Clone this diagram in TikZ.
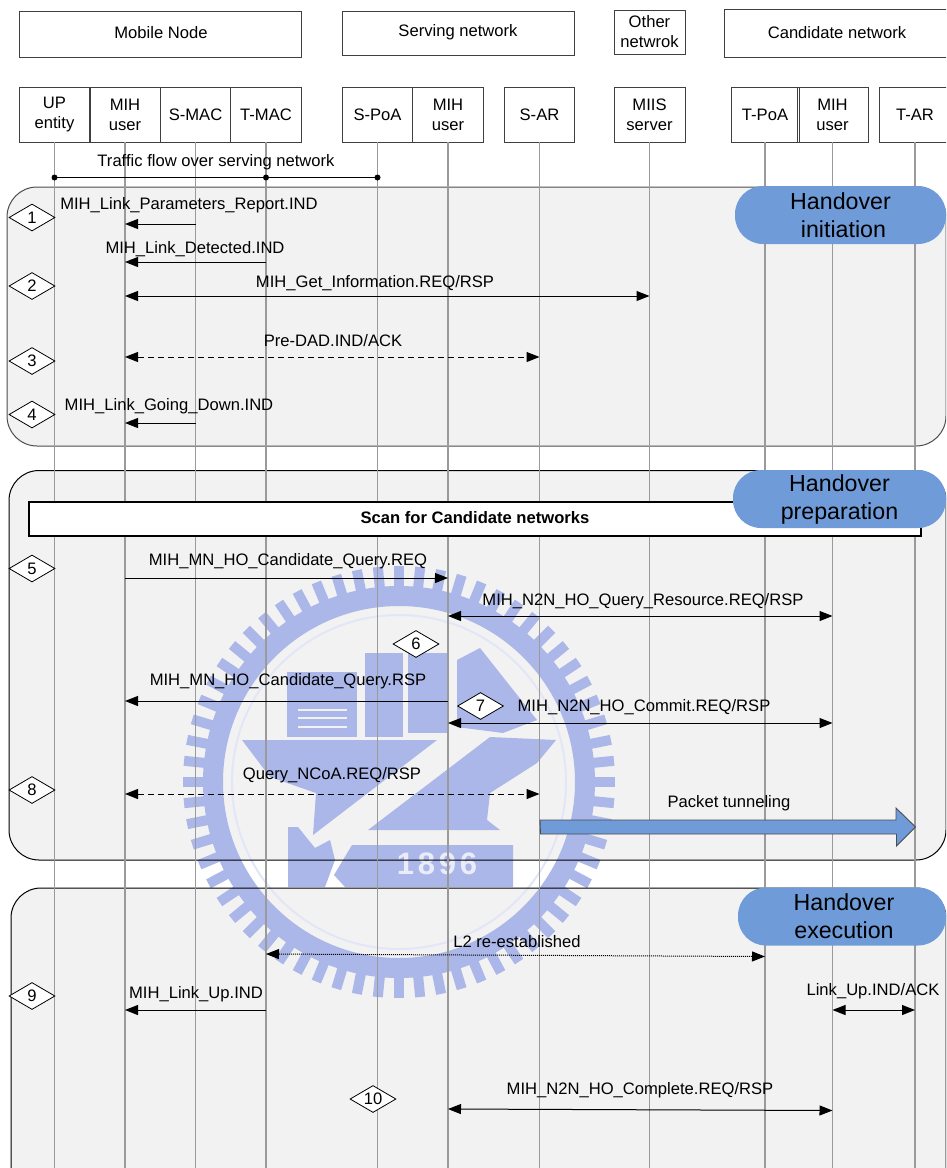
\documentclass[tikz,border=0pt]{standalone}
\usepackage{fontspec}
\setmainfont{Liberation Sans}
\usetikzlibrary{arrows.meta, shapes.geometric}
\definecolor{PhaseFill}{HTML}{F2F2F2}
\definecolor{PillBlue}{HTML}{6F9BD9}
\definecolor{SealBlue}{HTML}{ABB7E8}
\definecolor{LifeGray}{HTML}{9A9A9A}
\tikzset{
    entity/.style={draw=black!75, line width=0.9pt, inner sep=0pt, align=center, font=\fontsize{16.6}{20}\selectfont},
    lifeline/.style={draw=LifeGray, line width=1.4pt},
    phase/.style={rounded corners=30pt, line width=1pt},
    pill/.style={fill=PillBlue, rounded corners=28pt, inner sep=0pt, minimum height=58pt, align=center, font=\fontsize{23.2}{28}\selectfont},
    lbl/.style={inner sep=0pt, yshift=-1.4pt, font=\fontsize{16.6}{19}\selectfont},
    stepmark/.style={diamond, draw=black, fill=white, line width=0.8pt, inner sep=0pt, aspect=1.7, minimum width=46pt, minimum height=27pt, font=\fontsize{16.6}{19}\selectfont},
    msg/.style={draw=black, line width=1pt, -{Triangle[length=13pt,width=10pt]}},
    msgboth/.style={msg, {Triangle[length=13pt,width=10pt]}-{Triangle[length=13pt,width=10pt]}},
    longdash/.style={dash pattern=on 6pt off 4pt},
    tdot/.style={circle, fill=black, inner sep=0pt, minimum size=6pt}
}
\begin{document}
\begin{tikzpicture}[x=1pt, y=-1pt]
    \useasboundingbox (0,0) rectangle (946,1168);
    \clip (0,0) rectangle (946,1168);

    % Phase backgrounds, borders come after the seal
    \fill[PhaseFill, phase] (7,187) rectangle (946,446);
    \fill[PhaseFill, phase] (9,470.5) rectangle (946,860);
    \fill[PhaseFill, phase] (11,888) rectangle (946,1198);

    % Seal behind everything: centre (399,782)
    \coordinate (SC) at (399,782);
    \begin{scope}[SealBlue]
        \draw[line width=20pt] (SC) circle (186);
        \draw[SealBlue!35, line width=2pt] (SC) circle (167);
        \foreach \a in {0,5.625,...,359} {
            \draw[line width=10pt] (SC) ++(\a:190) -- ++(\a:26);
        }
        % hull, left and right of the stripe
        \fill (242,740) -- (437,740) -- (313,835) -- (316,793) -- (270,777) -- cycle;
        \fill (490,737) -- (556,740) -- (537,763) -- (490,793) -- (487,820) -- (500,830) -- (368,830) -- cycle;
        % buildings
        \fill (287,672) rectangle (357,737);
        \fill (365,653) rectangle (403,737);
        \fill (408,653) rectangle (448,733);
        \fill (457,660) -- (480,648) -- (537,720) -- (503,733) -- (457,727) -- cycle;
        \foreach \y in {710,718,727} {
            \draw[PhaseFill, line width=2.5pt] (298,\y) -- (347,\y);
        }
        % foot of the seal and banner
        \fill (288,827) -- (298,827) -- (315,848) -- (330,840) -- (335,860) -- (325,887) -- (288,887) -- cycle;
        \fill (334,875) -- (352,845) -- (513,845) -- (513,887) -- (345,887) -- cycle;
    \end{scope}
    \node[text=SealBlue!25, font=\bfseries\fontsize{31}{31}\selectfont\addfontfeature{LetterSpace=12}, inner sep=0pt] (year) at (437,864) {1896};

    \draw[draw=black!70, phase] (7,187) rectangle (946,446);
    \draw[draw=black, phase] (9,470.5) rectangle (946,860);
    \draw[draw=black, phase] (11,888) rectangle (946,1198);

    % Group boxes
    \node[entity, minimum width=282pt, minimum height=46pt] (mobile) at (160,34) {};
    \node[lbl] (mobiletxt) at (161,31.5) {Mobile Node};
    \node[entity, minimum width=232pt, minimum height=44pt] (serving) at (458,33) {};
    \node[lbl] (servingtxt) at (458,30.5) {Serving network};
    \node[entity, minimum width=71pt, minimum height=44pt] (other) at (649.5,32) {Other\\netwrok};
    \node[entity, minimum width=226pt, minimum height=48pt] (candidate) at (837,33) {};
    \node[lbl] (candidatetxt) at (837,31) {Candidate network};

    % Entity boxes
    \node[entity, minimum width=71pt, minimum height=55pt] (upent) at (54.5,114.5) {UP\\entity};
    \node[entity, minimum width=70.5pt, minimum height=55pt] (mihmn) at (125,114.5) {MIH\\user};
    \node[entity, minimum width=70.5pt, minimum height=55pt] (smac) at (195.5,114.5) {S-MAC};
    \node[entity, minimum width=70.5pt, minimum height=55pt] (tmac) at (266,114.5) {T-MAC};
    \node[entity, minimum width=70.5pt, minimum height=55pt] (spoa) at (377.5,114.5) {S-PoA};
    \node[entity, minimum width=70.5pt, minimum height=55pt] (mihsn) at (448,114.5) {MIH\\user};
    \node[entity, minimum width=70.5pt, minimum height=55pt] (sar) at (539.5,114.5) {S-AR};
    \node[entity, minimum width=71pt, minimum height=55pt] (miis) at (649.5,114.5) {MIIS\\server};
    \node[entity, minimum width=68pt, minimum height=55pt] (tpoa) at (765,114.5) {T-PoA};
    \node[entity, minimum width=71pt, minimum height=55pt] (mihcn) at (832.5,114.5) {MIH\\user};
    \node[entity, minimum width=71pt, minimum height=55pt] (tar) at (915,114.5) {T-AR};

    % Lifelines
    \coordinate (Bot) at (0,1168);
    \foreach \n in {upent,mihmn,smac,tmac,spoa,mihsn,sar,miis,tpoa,mihcn,tar} {
        \draw[lifeline] (\n.south) -- (\n.south |- Bot);
    }

    % Scan box, the pill lies over its right end
    \node[draw=black, fill=white, line width=2pt, minimum width=892pt, minimum height=34pt, inner sep=0pt] (scan) at (475,519) {};
    \node[lbl, font=\bfseries\fontsize{16.6}{19}\selectfont] (scantxt) at (475,516.5) {Scan for Candidate networks};

    % Phase names
    \node[pill, minimum width=211pt] (initiation) at (840.5,215) {Handover\\\hspace*{6pt}initiation};
    \node[pill, minimum width=213pt] (preparation) at (839.5,499) {Handover\\preparation};
    \node[pill, minimum width=208pt] (execution) at (842,916.5) {\hspace*{4pt}Handover\\\hspace*{4pt}execution};

    % Message rows
    \coordinate (R0) at (0,177.5);   % Traffic flow
    \coordinate (R1) at (0,224);     % Parameters report
    \coordinate (R2) at (0,262);     % Link detected
    \coordinate (R3) at (0,296);     % Get information
    \coordinate (R4) at (0,357);     % Pre-DAD
    \coordinate (R5) at (0,423);     % Going down
    \coordinate (R6) at (0,578);     % Candidate query REQ
    \coordinate (R7) at (0,616);     % Query resource
    \coordinate (R8) at (0,701);     % Candidate query RSP
    \coordinate (R9) at (0,723);     % Commit
    \coordinate (R10) at (0,794);    % Query NCoA
    \coordinate (R11) at (0,1010);   % Link up
    \coordinate (La) at (266,954);   % L2 start
    \coordinate (Lb) at (765,956.5); % L2 end
    \coordinate (Ca) at (448,1109);  % Complete start
    \coordinate (Cb) at (832.5,1110.5); % Complete end

    \draw[draw=black, line width=1pt] (upent |- R0) node[tdot] (d1) {} -- (tmac |- R0) node[tdot] (d2) {} -- (spoa |- R0) node[tdot] (d3) {};
    \node[lbl] (t0) at (216,160.5) {Traffic flow over serving network};

    \draw[msg] (smac |- R1) -- (mihmn |- R1);
    \node[lbl] (t1) at (189,203.5) {MIH\_Link\_Parameters\_Report.IND};
    \draw[msg] (tmac |- R2) -- (mihmn |- R2);
    \node[lbl] (t2) at (195,247.5) {MIH\_Link\_Detected.IND};
    \draw[msgboth] (mihmn |- R3) -- (miis |- R3);
    \node[lbl] (t3) at (375,282) {MIH\_Get\_Information.REQ/RSP};
    \draw[msgboth, longdash] (mihmn |- R4) -- (sar |- R4);
    \node[lbl] (t4) at (333,339) {Pre-DAD.IND/ACK};
    \draw[msg] (smac |- R5) -- (mihmn |- R5);
    \node[lbl] (t5) at (169,404.5) {MIH\_Link\_Going\_Down.IND};

    \draw[msg] (mihmn |- R6) -- (mihsn |- R6);
    \node[lbl] (t6) at (288,560) {MIH\_MN\_HO\_Candidate\_Query.REQ};
    \draw[msgboth] (mihsn |- R7) -- (mihcn |- R7);
    \node[lbl] (t7) at (643,600) {MIH\_N2N\_HO\_Query\_Resource.REQ/RSP};
    \draw[msg] (mihsn |- R8) -- (mihmn |- R8);
    \node[lbl] (t8) at (288,680) {MIH\_MN\_HO\_Candidate\_Query.RSP};
    \draw[msgboth] (mihsn |- R9) -- (mihcn |- R9);
    \node[lbl] (t9) at (644,705.5) {MIH\_N2N\_HO\_Commit.REQ/RSP};
    \draw[msgboth, longdash] (mihmn |- R10) -- (sar |- R10);
    \node[lbl] (t10) at (332,774) {Query\_NCoA.REQ/RSP};

    % Packet tunneling block arrow
    \coordinate (Ta) at (540,827);
    \coordinate (Tb) at (915.5,827);
    \draw[draw=black!70, fill=PillBlue, line width=0.9pt] (Ta) ++(0,-7) -- ++(356,0) -- ++(0,-12) -- (Tb) -- ++(-19,19) -- ++(0,-12) -- ++(-356,0) -- cycle;
    \node[lbl] (t11) at (729,802) {Packet tunneling};

    \draw[msgboth, densely dotted] (La) -- (Lb);
    \node[lbl] (t12) at (517,940.5) {L2 re-established};
    \draw[msg] (tmac |- R11) -- (mihmn |- R11);
    \node[lbl] (t13) at (196,992.5) {MIH\_Link\_Up.IND};
    \draw[msgboth] (mihcn |- R11) -- (tar |- R11);
    \node[lbl] (t14) at (873,989.5) {Link\_Up.IND/ACK};
    \draw[msgboth] (Ca) -- (Cb);
    \node[lbl] (t15) at (640,1088.5) {MIH\_N2N\_HO\_Complete.REQ/RSP};

    % Step markers
    \node[stepmark] (s1) at (32,217.5) {1};
    \node[stepmark] (s2) at (32,286) {2};
    \node[stepmark] (s3) at (32,361) {3};
    \node[stepmark] (s4) at (32,414.5) {4};
    \node[stepmark] (s5) at (32,568.5) {5};
    \node[stepmark] (s6) at (416,644) {6};
    \node[stepmark] (s7) at (480.5,706) {7};
    \node[stepmark] (s8) at (32,790) {8};
    \node[stepmark] (s9) at (32,996) {9};
    \node[stepmark] (s10) at (373,1099) {10};
\end{tikzpicture}
\end{document}
